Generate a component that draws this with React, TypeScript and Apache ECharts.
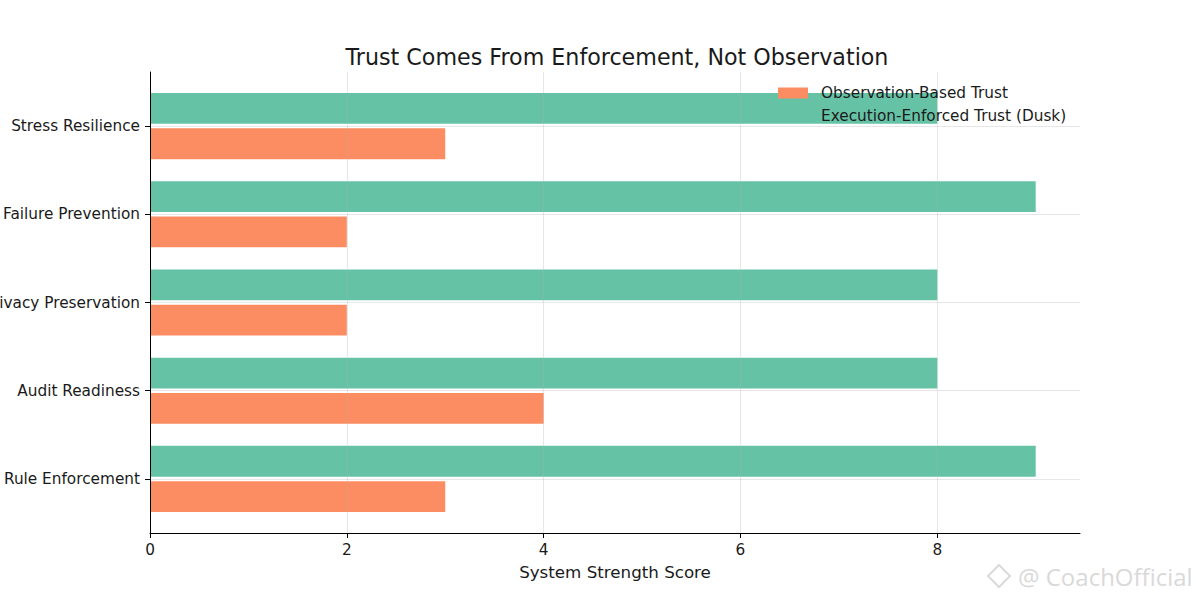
import React, { useEffect, useRef } from 'react';
import * as echarts from 'echarts';

const categories = [
  'Rule Enforcement',
  'Audit Readiness',
  'Privacy Preservation',
  'Failure Prevention',
  'Stress Resilience',
];
const observationTrust = [3, 4, 2, 2, 3];
const executionTrust = [9, 8, 8, 9, 8];
const xTicks = [0, 2, 4, 6, 8];
const seriesNames = ['Observation-Based Trust', 'Execution-Enforced Trust (Dusk)'];
const titleText = 'Trust Comes From Enforcement, Not Observation';
const xAxisName = 'System Strength Score';
const watermarkText = '@ CoachOfficial';

const COLORS = ['#fc8d62', '#66c2a5'];
const BAR_HALF = 0.175;
const OFFSET = 0.2;
const FONT = 'DejaVu Sans';

function makeRender() {
  return (params: any, api: any) => {
    const v = api.value(0);
    const y = api.value(1);
    const p0 = api.coord([0, y + BAR_HALF]);
    const p1 = api.coord([v, y - BAR_HALF]);
    return {
      type: 'rect',
      shape: { x: p0[0], y: p0[1], width: p1[0] - p0[0], height: p1[1] - p0[1] },
      style: api.style(),
    };
  };
}

export default function App() {
  const ref = useRef<HTMLDivElement>(null);
  useEffect(() => {
    if (!ref.current) return;
    const chart = echarts.init(ref.current, undefined, { renderer: 'svg' });
    const catIdx = categories.map((_, i) => i);
    const gridColor = 'rgba(176,176,176,0.3)';
    chart.setOption({
      animation: false,
      backgroundColor: '#ffffff',
      textStyle: { fontFamily: FONT },
      title: {
        text: titleText,
        left: 612,
        textAlign: 'center',
        top: 41,
        textStyle: { fontFamily: FONT, fontSize: 22.2, fontWeight: 'normal', color: '#1a1a1a' },
      },
      legend: {
        orient: 'vertical',
        left: 778,
        top: 85,
        padding: 0,
        itemGap: 7,
        itemWidth: 30,
        itemHeight: 11,
        icon: 'rect',
        data: seriesNames,
        textStyle: { fontFamily: FONT, fontSize: 15.3, color: '#1a1a1a', padding: [0, 0, 0, 8], lineHeight: 16 },
      },
      grid: { left: 150, right: 120, top: 72, bottom: 67, outerBoundsMode: 'none', containLabel: false },
      xAxis: {
        type: 'value',
        min: 0,
        max: 9.45,
        interval: 2,
        z: 3,
        name: xAxisName,
        nameLocation: 'middle',
        nameGap: 30,
        nameTextStyle: { fontFamily: FONT, fontSize: 16.7, color: '#1a1a1a' },
        axisLine: { show: true, onZero: false, lineStyle: { color: '#000', width: 1 } },
        axisTick: { show: true, length: 5, customValues: xTicks, lineStyle: { color: '#000' } },
        axisLabel: { customValues: xTicks, margin: 9, fontFamily: FONT, fontSize: 15.3, color: '#1a1a1a' },
        splitLine: { show: true, lineStyle: { color: gridColor, width: 1 } },
      },
      yAxis: {
        type: 'value',
        min: -0.6125,
        max: 4.6125,
        z: 3,
        axisLine: { show: true, onZero: false, lineStyle: { color: '#000', width: 1 } },
        axisTick: { show: true, length: 5, customValues: catIdx, lineStyle: { color: '#000' } },
        axisLabel: {
          customValues: catIdx,
          margin: 10,
          fontFamily: FONT,
          fontSize: 15.3,
          color: '#1a1a1a',
          formatter: (v: number) => categories[Math.round(v)] ?? '',
        },
        splitLine: { show: true, lineStyle: { color: gridColor, width: 1 } },
      },
      series: [
        {
          name: seriesNames[0],
          type: 'custom',
          itemStyle: { color: COLORS[0] },
          encode: { x: 0, y: 1 },
          renderItem: makeRender(),
          data: observationTrust.map((v, i) => [v, i - OFFSET]),
        },
        {
          name: seriesNames[1],
          type: 'custom',
          itemStyle: { color: COLORS[1] },
          encode: { x: 0, y: 1 },
          renderItem: makeRender(),
          data: executionTrust.map((v, i) => [v, i + OFFSET]),
        },
      ],
      graphic: [
        {
          type: 'polygon',
          shape: { points: [[999, 565], [1010, 576], [999, 587], [988, 576]] },
          style: { fill: 'none', stroke: '#dadada', lineWidth: 2 },
        },
        {
          type: 'text',
          x: 1018,
          y: 576,
          style: {
            text: watermarkText,
            fontFamily: 'Open Sans',
            fontSize: 24,
            fill: '#d9d9d9',
            verticalAlign: 'middle',
            align: 'left',
          },
        },
      ],
    });
    return () => chart.dispose();
  }, []);
  return (
    <div
      ref={ref}
      style={{ position: 'fixed', left: 0, top: 0, width: 1200, height: 600 }}
    />
  );
}
